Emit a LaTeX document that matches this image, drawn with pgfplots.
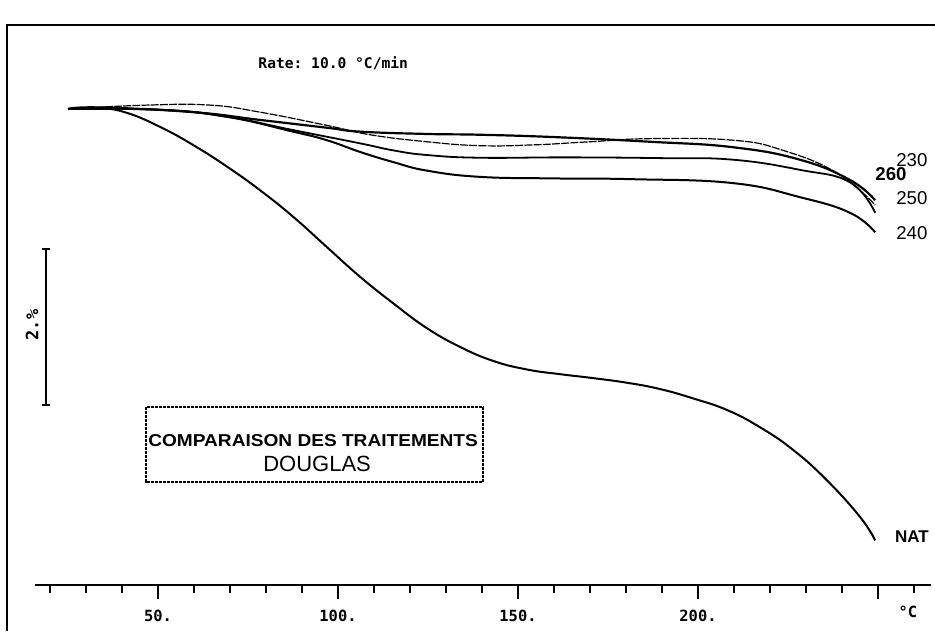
\documentclass[border=0pt]{standalone}
\usepackage{pgfplots}
\pgfplotsset{compat=1.18}
\usepackage{pgfplotstable}
\usepackage{fontspec}
\setmainfont{Liberation Sans}
\setmonofont{DejaVu Sans Mono}

\pgfplotstableread{
T m
25.0 100.00
33.9 100.01
41.4 99.95
50.6 99.77
59.7 99.54
69.2 99.26
78.3 98.96
87.5 98.62
96.9 98.23
106.1 97.85
115.3 97.51
124.7 97.19
133.9 96.95
143.1 96.77
152.5 96.66
161.7 96.60
170.8 96.55
180.3 96.49
189.4 96.41
198.6 96.29
208.1 96.14
217.2 95.92
226.4 95.63
235.8 95.24
245.0 94.77
249.2 94.47
}\nat

\pgfplotstableread{
T m
25.0 100.00
46.9 100.05
64.4 100.05
78.3 99.96
96.9 99.79
108.9 99.67
124.7 99.58
139.4 99.53
154.2 99.54
170.0 99.58
186.7 99.62
209.7 99.60
223.6 99.47
238.6 99.18
249.2 98.77
}\tbl

\pgfplotstableread{
T m
25.0 100.00
33.9 100.02
59.7 99.96
78.3 99.86
96.9 99.76
106.1 99.71
124.7 99.68
139.4 99.67
160.0 99.64
186.7 99.58
209.7 99.51
228.3 99.35
242.2 99.09
249.2 98.83
}\tbs

\pgfplotstableread{
T m
25.0 100.00
50.6 99.99
69.2 99.90
87.5 99.73
106.1 99.56
115.3 99.47
124.7 99.41
139.4 99.375
163.6 99.38
190.0 99.37
209.7 99.35
228.3 99.22
242.2 99.06
249.2 98.67
}\tbf

\pgfplotstableread{
T m
25.0 100.00
50.6 99.99
69.2 99.90
87.5 99.71
96.9 99.60
106.1 99.45
115.3 99.32
124.7 99.21
139.4 99.13
160.0 99.11
181.9 99.10
209.7 99.05
228.3 98.87
242.2 98.67
249.2 98.42
}\tbq

\begin{document}
\begin{tikzpicture}
\useasboundingbox (0,0) rectangle (467.5pt,-315.5pt);
\draw[line width=1pt] (3.5pt,-315.5pt) -- (3.5pt,-12.5pt) -- (467.5pt,-12.5pt);
\begin{axis}[
  at={(17.5pt,-292.5pt)}, anchor=south west,
  scale only axis, width=448pt, height=280pt,
  xmin=15.83, xmax=264.72, ymin=93.897, ymax=101.077,
  axis x line=bottom, axis y line=none,
  axis line style={-, line width=1pt},
  xtick={50,100,150,200,250},
  xticklabels={50.,100.,150.,200.,{}},
  minor xtick={20,30,40,60,70,80,90,110,120,130,140,160,170,180,190,210,220,230,240,260},
  tick align=outside,
  major tick length=7pt, minor tick length=4pt,
  every tick/.style={black, line width=0.8pt},
  xticklabel style={font=\ttfamily\bfseries\fontsize{7.7}{8}\selectfont, yshift=-2pt},
  clip=false,
]
\addplot[black, line width=1pt, smooth, tension=0.75] table {\nat};
\addplot[black, line width=0.6pt, smooth, tension=0.75, dash pattern=on 4pt off 0.6pt] table {\tbl};
\addplot[black, line width=1.1pt, smooth, tension=0.75] table {\tbs};
\addplot[black, line width=0.9pt, smooth, tension=0.75] table {\tbf};
\addplot[black, line width=1pt, smooth, tension=0.75] table {\tbq};

\node[anchor=center, font=\fontsize{9.3}{10}\selectfont] at (axis cs:259.4,99.346) {230};
\node[anchor=center, font=\bfseries\fontsize{9.3}{10}\selectfont] at (axis cs:253.6,99.167) {260};
\node[anchor=center, font=\fontsize{9.3}{10}\selectfont] at (axis cs:259.4,98.859) {250};
\node[anchor=center, font=\fontsize{9.3}{10}\selectfont] at (axis cs:259.4,98.410) {240};
\node[anchor=center, font=\bfseries\fontsize{8.5}{10}\selectfont] at (axis cs:259.4,94.513) {NAT};
\node[anchor=center, font=\ttfamily\bfseries\fontsize{7.7}{8}\selectfont] at (axis cs:258.3,93.551) {°C};
\node[anchor=west, inner sep=0pt, font=\ttfamily\bfseries\fontsize{7.3}{8}\selectfont] at (axis cs:77.8,100.59) {Rate: 10.0 °C/min};

\draw[line width=0.75pt] (axis cs:18.9,98.205) -- (axis cs:18.9,96.205);
\draw[line width=0.75pt] ([xshift=-2pt]axis cs:18.9,98.205) -- ([xshift=2pt]axis cs:18.9,98.205);
\draw[line width=0.75pt] ([xshift=-2pt]axis cs:18.9,96.205) -- ([xshift=2pt]axis cs:18.9,96.205);
\node[rotate=90, font=\ttfamily\bfseries\fontsize{8.5}{9}\selectfont] at (axis cs:15.0,97.23) {2.\%};

\draw[line width=0.8pt, dash pattern=on 1.5pt off 0.5pt] (axis cs:46.67,96.179) rectangle (axis cs:140.28,95.218);
\node[anchor=west, inner sep=0pt, font=\bfseries\fontsize{8.6}{10}\selectfont] at (axis cs:47.2,95.744) {\scalebox{1.11}[1]{COMPARAISON DES TRAITEMENTS}};
\node[anchor=center, inner sep=0pt, font=\fontsize{11}{12}\selectfont] at (axis cs:94.2,95.449) {DOUGLAS};
\end{axis}
\end{tikzpicture}
\end{document}
